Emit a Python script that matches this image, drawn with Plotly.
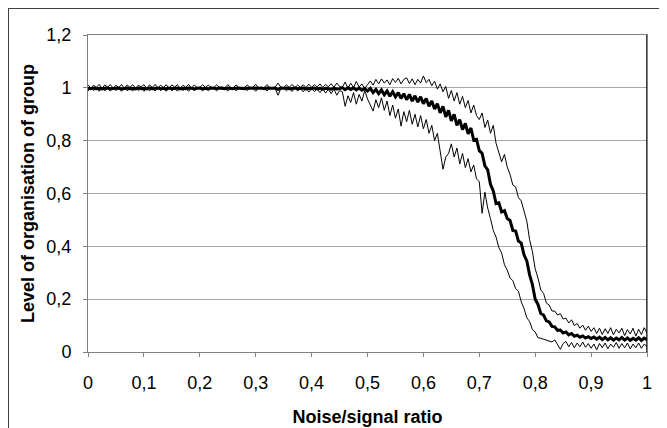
import plotly.graph_objects as go

# x grid: noise/signal ratio from 0 to 1 in steps of 0.005
noise_ratio = [i / 200 for i in range(201)]

upper = [
    1.012,0.999,1.010,1.002,1.013,0.998,1.011,1.003,1.012,0.999,
    1.010,1.001,1.013,0.998,1.011,1.002,1.012,0.999,1.010,1.003,
    1.012,0.998,1.011,1.002,1.013,0.999,1.010,1.001,1.012,0.998,
    1.011,1.003,1.012,0.999,1.010,1.002,1.013,0.998,1.011,1.001,
    1.002,1.012,1.001,1.010,1.002,1.001,1.011,1.002,1.003,1.001,
    1.012,1.002,1.001,1.011,1.002,1.001,1.002,1.010,1.001,1.002,
    1.013,1.001,1.002,1.001,1.012,1.002,1.001,1.003,1.018,1.002,
    1.001,1.011,1.002,1.013,1.001,1.010,1.002,1.012,1.001,1.014,
    1.002,1.012,1.003,1.015,1.001,1.013,1.004,1.016,1.002,1.018,
    1.005,
    1.002,1.022,0.998,1.018,1.001,1.024,1.003,1.015,0.997,1.012,
    1.026,1.010,1.032,1.015,1.034,1.018,1.030,1.012,1.035,1.020,
    1.036,1.015,1.032,1.038,1.016,1.034,1.012,1.032,1.018,1.045,
    1.020,1.032,1.008,1.025,0.995,1.015,0.985,1.005,0.960,0.990,
    0.950,0.982,0.938,0.968,0.925,0.952,0.905,0.935,0.895,0.880,
    0.905,0.850,0.878,0.828,0.858,0.790,0.755,0.720,0.748,0.700,
    0.672,0.632,0.625,0.585,0.572,0.530,0.495,0.425,0.380,0.315,
    0.280,0.235,0.222,0.185,0.178,0.155,0.155,0.140,0.145,0.125,
    0.128,0.110,0.122,0.100,0.108,0.090,0.102,0.082,0.098,0.078,
    0.092,0.070,0.090,0.066,0.088,0.070,0.092,0.065,0.086,0.072,
    0.090,0.062,0.085,0.068,0.090,0.060,0.086,0.066,0.092,0.072,
]

mean = [
    0.998,0.997,0.999,0.997,0.998,0.996,0.998,0.999,0.997,0.998,
    0.997,0.999,0.996,0.998,0.999,0.997,0.998,0.996,0.999,0.997,
    0.998,0.996,0.999,0.997,0.998,0.999,0.997,0.998,0.996,0.999,
    0.997,0.998,0.999,0.996,0.998,0.997,0.999,0.998,0.996,0.998,
    0.999,0.997,0.998,0.996,0.999,0.998,0.997,0.999,0.998,0.997,
    0.999,0.998,0.997,0.999,0.998,0.999,0.997,0.998,0.999,0.998,
    0.999,0.998,0.999,0.997,0.999,0.998,0.999,0.998,0.994,0.999,
    0.998,0.999,0.997,0.998,0.999,0.997,0.998,0.999,0.996,0.998,
    0.997,0.999,0.996,0.998,0.995,0.998,0.997,0.995,0.998,0.996,
    0.997,
    1.000,0.993,1.000,0.994,1.000,0.992,0.999,0.991,0.998,0.988,
    0.998,0.982,0.994,0.978,0.992,0.974,0.988,0.968,0.985,0.966,
    0.982,0.960,0.978,0.955,0.975,0.950,0.970,0.946,0.966,0.940,
    0.960,0.930,0.950,0.920,0.940,0.905,0.930,0.890,0.915,0.875,
    0.900,0.858,0.880,0.842,0.865,0.826,0.848,0.802,0.805,0.762,
    0.752,0.705,0.690,0.635,0.610,0.562,0.565,0.530,0.535,0.505,
    0.498,0.460,0.458,0.420,0.412,0.368,0.345,0.292,0.255,0.200,
    0.180,0.146,0.140,0.118,0.114,0.097,0.095,0.082,0.083,0.072,
    0.076,0.065,0.070,0.060,0.064,0.056,0.061,0.053,0.058,0.051,
    0.057,0.049,0.056,0.047,0.055,0.046,0.054,0.045,0.053,0.046,
    0.055,0.045,0.053,0.044,0.052,0.045,0.054,0.044,0.053,0.046,
]

lower = [
    0.988,1.000,0.990,0.998,0.987,1.001,0.989,0.997,0.988,1.000,
    0.990,0.998,0.987,1.001,0.989,0.997,0.988,1.000,0.990,0.998,
    0.987,1.001,0.989,0.997,0.988,1.000,0.990,0.998,0.987,1.001,
    0.989,0.997,0.988,1.000,0.990,0.998,0.987,1.001,0.989,0.998,
    0.998,0.988,0.999,0.990,0.998,0.999,0.989,0.998,0.997,0.999,
    0.988,0.998,0.999,0.989,0.998,0.999,0.998,0.990,0.999,0.998,
    0.987,0.999,0.998,0.999,0.988,0.998,0.999,0.997,0.972,0.998,
    0.999,0.989,0.998,0.986,0.999,0.988,0.998,0.985,0.999,0.984,
    0.997,0.986,0.996,0.982,0.997,0.980,0.995,0.978,0.996,0.972,
    0.990,
    0.985,0.930,0.970,0.945,0.982,0.938,0.975,0.950,0.990,0.958,
    0.935,0.912,0.955,0.925,0.962,0.915,0.950,0.895,0.935,0.885,
    0.920,0.855,0.910,0.872,0.915,0.862,0.900,0.852,0.895,0.845,
    0.880,0.828,0.858,0.800,0.828,0.752,0.692,0.738,0.752,0.788,
    0.738,0.772,0.712,0.752,0.698,0.732,0.682,0.708,0.655,0.645,
    0.525,0.605,0.545,0.505,0.460,0.435,0.395,0.375,0.330,0.310,
    0.280,0.270,0.240,0.230,0.190,0.165,0.130,0.115,0.085,0.076,
    0.054,0.052,0.048,0.044,0.041,0.038,0.046,0.028,0.010,0.032,
    0.040,0.020,0.036,0.016,0.034,0.020,0.038,0.018,0.032,0.014,
    0.030,0.008,0.032,0.016,0.034,0.012,0.030,0.018,0.036,0.014,
    0.032,0.016,0.034,0.012,0.030,0.016,0.034,0.014,0.030,0.020,
]

x_title = "Noise/signal ratio"
y_title = "Level of organisation of group"

fig = go.Figure()
for series, w in ((upper, 1), (lower, 1), (mean, 3)):
    fig.add_trace(go.Scatter(
        x=noise_ratio[:len(series)], y=series, mode="lines",
        line=dict(color="black", width=w), hoverinfo="skip",
    ))

font_family = "Liberation Sans, Arial, sans-serif"

fig.update_layout(
    width=667, height=428,
    margin=dict(l=80, r=28, t=27, b=84, autoexpand=False),
    paper_bgcolor="rgba(0,0,0,0)", plot_bgcolor="white",
    separators=",.",
    showlegend=False,
    font=dict(family=font_family, size=18, color="black"),
    xaxis=dict(
        range=[0, 1], tick0=0, dtick=0.1, automargin=False,
        ticks="outside", ticklen=4, tickcolor="#808080",
        showline=True, linecolor="#808080", linewidth=1, mirror=True,
        showgrid=False, zeroline=False,
        ticklabelstandoff=10,
        title=dict(text="<b>" + x_title + "</b>", standoff=18,
                   font=dict(size=18)),
    ),
    yaxis=dict(
        range=[0, 1.2], tick0=0, dtick=0.2, automargin=False,
        ticks="outside", ticklen=4, tickcolor="#808080",
        showline=True, linecolor="#808080", linewidth=1, mirror=True,
        showgrid=True, gridcolor="#a8a8a8", gridwidth=1, zeroline=False,
        ticklabelstandoff=8,
        title=dict(text="<b>" + y_title + "</b>", standoff=7,
                   font=dict(size=18)),
    ),
    shapes=[
        dict(type="line", xref="x", yref="y", x0=1, x1=1, y0=0, y1=1.2,
             line=dict(color="black", width=1.5)),
    ],
)

# thin frame around the whole chart area (like the chart-area border)
frame_js = (
    "var d=document.getElementById('{plot_id}');"
    "d.style.outline='1px solid #404040';"
    "d.style.outlineOffset='-1px';"
    "document.body.style.background='white';"
)

fig.write_html("out.html", post_script=frame_js)
